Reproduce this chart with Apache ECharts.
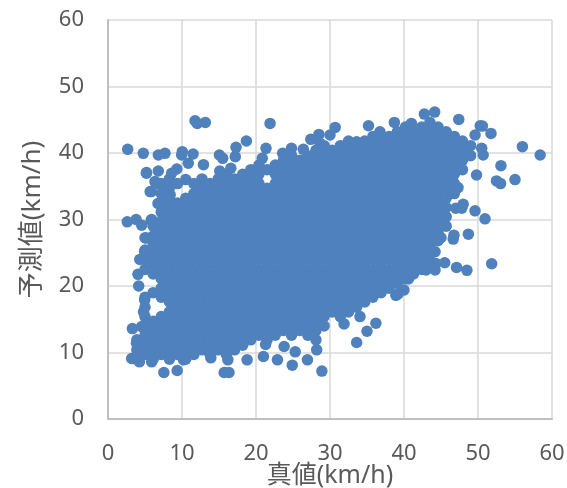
<!DOCTYPE html>
<html>
<head>
<meta charset="utf-8">
<style>
  html, body { margin: 0; padding: 0; background: #fff; }
  #chart { width: 567px; height: 488px; }
</style>
<script src="https://cdn.jsdelivr.net/npm/echarts@6/dist/echarts.min.js"></script>
</head>
<body>
<div id="chart"></div>
<script>
// tick labels
var xTicks = [0, 10, 20, 30, 40, 50, 60];
var yTicks = [0, 10, 20, 30, 40, 50, 60];

// dense part of the cloud, read column by column: true value, then predicted values
var denseTrue = [3.9, 5.0, 6.1, 7.2, 8.3, 9.4, 10.5, 11.6, 12.7, 13.8, 14.9, 16.0, 17.1, 18.2, 19.3, 20.4, 21.5, 22.6, 23.7, 24.8, 25.9, 27.0, 28.1, 29.2, 30.3, 31.4, 32.5, 33.6, 34.7, 35.8, 36.9, 38.0, 39.1, 40.2, 41.3, 42.4, 43.5, 44.6, 45.7, 46.8, 47.9, 49.0];
var densePredicted = [
  [9.0, 10.4, 11.9],
  [9.7, 11.1, 12.6, 14.0, 15.4, 16.8, 18.3, 22.5, 24.0, 25.4],
  [9.0, 10.4, 11.9, 13.3, 14.7, 19.0, 21.8, 23.3, 24.7, 26.1, 27.5, 29.0],
  [9.7, 11.1, 12.6, 14.0, 15.4, 18.3, 19.7, 21.1, 22.5, 24.0, 25.4, 26.8, 28.2, 29.7, 31.1, 32.5, 33.9, 35.4],
  [9.0, 10.4, 11.9, 13.3, 14.7, 16.1, 17.6, 19.0, 20.4, 21.8, 23.3, 24.7, 26.1, 27.5, 29.0, 30.4, 31.8, 33.2, 34.7, 36.1],
  [9.7, 11.1, 12.6, 14.0, 15.4, 16.8, 18.3, 19.7, 21.1, 22.5, 24.0, 25.4, 26.8, 28.2, 29.7, 31.1, 32.5, 35.4],
  [9.0, 10.4, 11.9, 13.3, 14.7, 16.1, 17.6, 19.0, 20.4, 21.8, 23.3, 24.7, 26.1, 27.5, 29.0, 30.4, 31.8, 33.2, 36.0],
  [9.7, 11.1, 12.6, 14.0, 15.4, 16.8, 18.3, 19.7, 21.1, 22.5, 24.0, 25.4, 26.8, 28.2, 29.7, 31.1, 32.5, 33.9, 35.4],
  [10.4, 11.9, 13.3, 14.7, 16.1, 17.6, 19.0, 20.4, 21.8, 23.3, 24.7, 26.1, 27.5, 29.0, 30.4, 31.8, 33.2, 34.7, 36.1],
  [9.7, 11.1, 12.6, 14.0, 15.4, 16.8, 18.3, 19.7, 21.1, 22.5, 24.0, 25.4, 26.8, 28.2, 29.7, 31.1, 32.5, 33.9, 35.4],
  [10.4, 11.9, 13.3, 14.7, 16.1, 17.6, 19.0, 20.4, 21.8, 23.3, 24.7, 26.1, 27.5, 29.0, 30.4, 31.8, 33.2, 34.7, 36.1],
  [9.7, 11.1, 12.6, 14.0, 15.4, 16.8, 18.3, 19.7, 21.1, 22.5, 24.0, 25.4, 26.8, 28.2, 29.7, 31.1, 32.5, 33.9, 35.4, 36.8],
  [10.4, 11.9, 13.3, 14.7, 16.1, 17.6, 19.0, 20.4, 21.8, 23.3, 24.7, 26.1, 27.5, 29.0, 30.4, 31.8, 33.2, 34.7, 36.1],
  [11.1, 12.6, 14.0, 15.4, 16.8, 18.3, 19.7, 21.1, 22.5, 24.0, 25.4, 26.8, 28.2, 29.7, 31.1, 32.5, 33.9, 35.4, 36.8],
  [11.9, 13.3, 14.7, 16.1, 17.6, 19.0, 20.4, 21.8, 23.3, 24.7, 26.1, 27.5, 29.0, 30.4, 31.8, 33.2, 34.7, 36.1, 37.5],
  [12.6, 14.0, 15.4, 16.8, 18.3, 19.7, 21.1, 22.5, 24.0, 25.4, 26.8, 28.2, 29.7, 31.1, 32.5, 33.9, 35.4, 36.8, 38.2],
  [11.9, 13.3, 14.7, 16.1, 17.6, 19.0, 20.4, 21.8, 23.3, 24.7, 26.1, 27.5, 29.0, 30.4, 31.8, 33.2, 34.7, 37.5],
  [12.6, 14.0, 15.4, 16.8, 18.3, 19.7, 21.1, 22.5, 24.0, 25.4, 26.8, 28.2, 29.7, 31.1, 32.5, 33.9, 35.4, 36.8, 38.2],
  [13.3, 14.7, 16.1, 17.6, 19.0, 20.4, 21.8, 23.3, 24.7, 26.1, 27.5, 29.0, 30.4, 31.8, 33.2, 34.7, 36.1, 37.5, 38.9],
  [12.6, 14.0, 15.4, 16.8, 18.3, 19.7, 21.1, 22.5, 24.0, 25.4, 26.8, 28.2, 29.7, 31.1, 32.5, 33.9, 35.4, 36.8, 38.2, 39.6],
  [13.3, 14.7, 16.1, 17.6, 19.0, 20.4, 21.8, 23.3, 24.7, 26.1, 27.5, 29.0, 30.4, 31.8, 33.2, 34.7, 36.1, 37.5, 38.9],
  [12.6, 14.0, 15.4, 16.8, 18.3, 19.7, 21.1, 22.5, 24.0, 25.4, 26.8, 28.2, 29.7, 31.1, 32.5, 33.9, 35.4, 36.8, 38.2, 39.6],
  [11.9, 13.3, 14.7, 16.1, 17.6, 19.0, 20.4, 21.8, 23.3, 24.7, 26.1, 27.5, 29.0, 30.4, 31.8, 33.2, 34.7, 36.1, 37.5, 38.9, 40.4],
  [14.0, 15.4, 16.8, 18.3, 19.7, 21.1, 22.5, 24.0, 25.4, 26.8, 28.2, 29.7, 31.1, 32.5, 33.9, 35.4, 36.8, 38.2, 39.6, 41.1],
  [16.1, 17.6, 19.0, 20.4, 21.8, 23.3, 24.7, 26.1, 27.5, 29.0, 30.4, 31.8, 33.2, 34.7, 36.1, 37.5, 38.9, 40.4],
  [15.4, 16.8, 18.3, 19.7, 21.1, 22.5, 24.0, 25.4, 26.8, 28.2, 29.7, 31.1, 32.5, 33.9, 35.4, 36.8, 38.2, 39.6, 41.1],
  [16.1, 17.6, 19.0, 20.4, 21.8, 23.3, 24.7, 26.1, 27.5, 29.0, 30.4, 31.8, 33.2, 34.7, 36.1, 37.5, 38.9, 40.4, 41.8],
  [16.8, 18.3, 19.7, 21.1, 22.5, 24.0, 25.4, 26.8, 28.2, 29.7, 31.1, 32.5, 33.9, 35.4, 36.8, 38.2, 39.6, 41.1],
  [17.6, 19.0, 20.4, 21.8, 23.3, 24.7, 26.1, 27.5, 29.0, 30.4, 31.8, 33.2, 34.7, 36.1, 37.5, 38.9, 40.4, 41.8],
  [18.3, 19.7, 21.1, 22.5, 24.0, 25.4, 26.8, 28.2, 29.7, 31.1, 32.5, 33.9, 35.4, 36.8, 38.2, 39.6, 41.1, 42.5],
  [19.0, 20.4, 21.8, 23.3, 24.7, 26.1, 27.5, 29.0, 30.4, 31.8, 33.2, 34.7, 36.1, 37.5, 38.9, 40.4, 41.8],
  [19.7, 21.1, 22.5, 24.0, 25.4, 26.8, 28.2, 29.7, 31.1, 32.5, 33.9, 35.4, 36.8, 38.2, 39.6, 41.1, 42.5],
  [20.4, 21.8, 23.3, 24.7, 26.1, 27.5, 29.0, 30.4, 31.8, 33.2, 34.7, 36.1, 37.5, 38.9, 40.4, 41.8, 43.2],
  [21.1, 22.5, 24.0, 25.4, 26.8, 28.2, 29.7, 31.1, 32.5, 33.9, 35.4, 36.8, 38.2, 39.6, 41.1, 42.5, 43.9],
  [21.8, 23.3, 24.7, 26.1, 27.5, 29.0, 30.4, 31.8, 33.2, 34.7, 36.1, 37.5, 38.9, 40.4, 41.8, 43.2],
  [22.5, 24.0, 25.4, 26.8, 28.2, 29.7, 31.1, 32.5, 33.9, 35.4, 36.8, 38.2, 39.6, 41.1, 42.5, 43.9],
  [23.3, 24.7, 26.1, 27.5, 29.0, 30.4, 31.8, 33.2, 34.7, 36.1, 37.5, 38.9, 40.4, 41.8, 43.2, 44.6],
  [26.8, 28.2, 29.7, 31.1, 32.5, 33.9, 35.4, 36.8, 38.2, 39.6, 41.1, 42.5, 43.9],
  [29.0, 30.4, 31.8, 33.2, 34.7, 36.1, 37.5, 38.9, 40.4, 41.8, 43.2],
  [33.9, 35.4, 36.8, 38.2, 39.6, 41.1, 42.5],
  [37.5, 38.9, 40.4, 41.8],
  [39.6, 41.1]
];

// points standing apart from the cloud: [true, predicted]
var loosePoints = [
  [2.66, 40.55], [4.77, 39.95], [6.8, 39.7], [7.7, 39.95], [10.04, 40.2], [9.95, 39.7], [11.5, 39.85],
  [11.76, 44.85], [12.07, 44.45], [13.15, 44.6], [21.9, 44.45], [18.7, 41.8], [17.3, 40.85], [17.2, 39.45],
  [15.05, 39.7], [15.5, 39.2], [10.85, 38.45], [12.9, 38.25], [5.2, 37.05], [6.8, 37.3], [9.3, 37.6],
  [8.6, 36.95], [15.1, 37.3], [16.6, 37.7], [21.35, 40.7], [20.85, 39.2], [23.6, 39.95], [24.8, 40.7],
  [26.4, 40.55], [27.4, 42.05], [28.5, 42.8], [28.65, 41.45], [30, 42.7], [2.6, 29.65], [3.8, 30.0],
  [4.55, 29.15], [5.9, 30.0], [5.0, 27.25], [5.7, 34.2], [6.35, 35.7], [8.4, 33.7],
  [42.75, 45.85], [44.15, 46.15], [47.4, 45.05], [50.3, 44.1], [50.6, 44.05], [51.75, 42.95], [56.0, 40.95],
  [58.4, 39.7], [53.1, 38.1], [52.5, 35.8], [53.05, 35.4], [55, 36.0], [50.7, 39.7], [50.5, 40.7], [49.8, 36.7],
  [35.2, 44.1], [38.7, 44.6], [41, 44.45], [30.7, 43.85], [36.75, 43.2], [33.6, 41.7], [49.6, 42.7],
  [48.0, 32.3], [47.0, 31.7], [47.8, 31.7], [49.6, 31.3], [50.95, 30.1], [46.65, 34.4], [47.3, 34.8],
  [48.7, 27.8], [46.75, 27.65], [46.65, 27.05], [45, 27.25], [51.85, 23.35], [45.5, 23.5], [47.1, 22.8],
  [48.5, 22.35], [44.3, 23.4], [44.2, 22.4], [42.6, 23.65], [43, 22.4], [44.2, 25.15], [40.6, 21.05],
  [40, 19.4], [39.2, 18.8], [37.9, 19.7],
  [3.3, 13.6], [4.55, 13.9], [3.2, 9.1], [4.25, 8.6], [5.9, 8.6], [7.55, 7.0], [9.35, 7.3], [15.7, 7.0],
  [16.35, 7.0], [16.2, 8.9], [18.8, 8.9], [21, 9.4], [22.9, 8.9], [24.9, 8.1], [26.95, 8.9], [28.9, 7.2],
  [25.3, 10.1], [28.2, 10.4], [23.8, 10.9], [21.3, 11.2], [13.9, 9.2], [10.2, 8.9], [33.6, 11.5], [35, 13.2],
  [31.9, 14.3], [36.2, 14.4], [34.05, 15.4], [38.9, 18.6],
  [5.2, 27.2], [4.95, 25.15], [4.3, 24], [4.05, 21.75], [4.15, 20], [4.95, 17.9], [4.8, 16.1], [3.85, 11.4],
  [3.4, 9.1], [6.75, 35.4], [5.85, 34.2], [6.75, 32.4], [5.85, 29.9], [5.2, 36.95]
];

// 散布図
(function () {
  var myChart = echarts.init(document.querySelector('#chart'))
  var points = loosePoints.slice()
  denseTrue.forEach(function (x, i) {
    densePredicted[i].forEach(function (y) {
      points.push([x, y])
    })
  })
  var font = '"Noto Sans", "Noto Sans CJK JP", sans-serif'
  var option = {
    animation: false,
    grid: {
      left: 108,
      right: 15,
      top: 20,
      bottom: 69,
      // v6 は既定でラベルが収まるようグリッドを縮めるので無効にする
      outerBoundsMode: 'none'
    },
    xAxis: {
      type: 'value',
      min: xTicks[0],
      max: xTicks[xTicks.length - 1],
      interval: xTicks[1] - xTicks[0],
      name: '真値(km/h)',
      nameLocation: 'middle',
      nameGap: 44,
      nameMoveOverlap: false,
      nameTextStyle: { color: '#595959', fontSize: 25, fontFamily: font },
      axisLine: { show: true, lineStyle: { color: '#bfbfbf', width: 2 } },
      axisTick: { show: false },
      axisLabel: { color: '#595959', fontSize: 22, margin: 24, fontFamily: font },
      splitLine: { show: true, lineStyle: { color: '#d9d9d9', width: 1.5 } }
    },
    yAxis: {
      type: 'value',
      min: yTicks[0],
      max: yTicks[yTicks.length - 1],
      interval: yTicks[1] - yTicks[0],
      name: '予測値(km/h)',
      nameLocation: 'middle',
      nameGap: 62,
      nameMoveOverlap: false,
      nameTextStyle: { color: '#595959', fontSize: 26, fontFamily: font },
      axisLine: { show: true, lineStyle: { color: '#bfbfbf', width: 2 } },
      axisTick: { show: false },
      axisLabel: { color: '#595959', fontSize: 22, margin: 24, padding: [2, 0, 0, 0], fontFamily: font },
      splitLine: { show: true, lineStyle: { color: '#d9d9d9', width: 1.5 } }
    },
    series: [{
      type: 'scatter',
      symbol: 'circle',
      symbolSize: 11.5,
      itemStyle: { color: '#4f81bd', opacity: 1 },
      data: points
    }]
  }
  myChart.setOption(option)
})();
</script>
</body>
</html>
